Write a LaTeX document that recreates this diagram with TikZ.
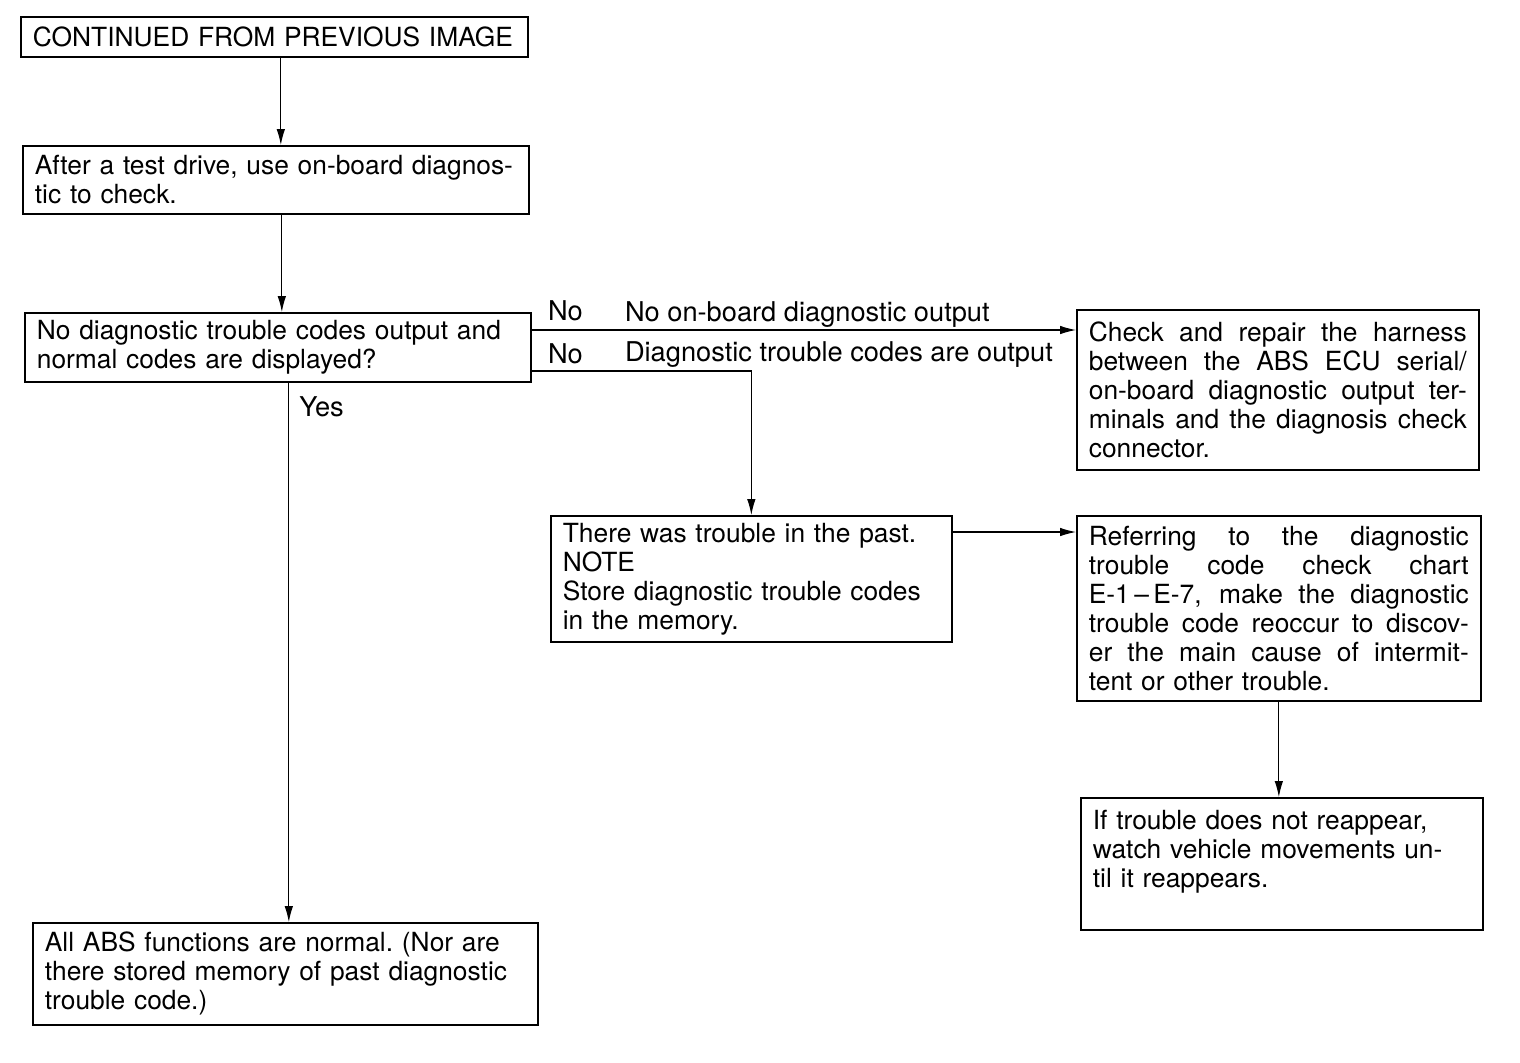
\documentclass[tikz,border=0pt]{standalone}
\usepackage{fontspec}
\setmainfont{TeX Gyre Heros}
\usetikzlibrary{arrows.meta, positioning, calc}

% one justified line inside a box
\newcommand{\jline}[1]{\leavevmode\hbox to \hsize{\spaceskip=0.28em plus 1fil\relax #1}}

\begin{document}
\begin{tikzpicture} [
    x=0.02cm, y=-0.02cm,
    box/.style={rectangle, draw, line width=1pt, anchor=north west, align=left, inner xsep=0.24cm, inner ysep=0.1cm, font=\fontsize{15}{16.5}\selectfont},
    line/.style={draw, -{Latex[length=0.32cm, width=0.17cm]}, line width=0.6pt},
    lbl/.style={font=\fontsize{15.5}{16.5}\selectfont, inner sep=0pt, anchor=base west}
]
    \useasboundingbox (0,0) rectangle (1520,1062);

    % Nodes
    \node[box, text width=9.66cm, minimum height=0.8cm] (cont) at (20,16) {CONTINUED FROM PREVIOUS IMAGE};

    \node[box, text width=9.64cm, minimum height=1.36cm] (drive) at (22,145) {After a test drive, use on-board diagnos-\\tic to check.};

    \node[box, text width=9.64cm, minimum height=1.38cm] (query) at (24,312) {No diagnostic trouble codes output and\\normal codes are displayed?};

    \node[box, text width=9.62cm, minimum height=2.04cm] (normal) at (32,922) {All ABS functions are normal.\ (Nor are\\there stored memory of past diagnostic\\trouble code.)};

    \node[box, text width=7.56cm, minimum height=3.2cm] (harness) at (1076,309) {\jline{Check and repair the harness}\\\jline{between the ABS ECU serial/}\\\jline{on-board diagnostic output ter-}\\\jline{minals and the diagnosis check}\\connector.};

    \node[box, text width=7.54cm, minimum height=2.52cm] (past) at (550,515) {There was trouble in the past.\\NOTE\\Store diagnostic trouble codes\\in the memory.};

    \node[box, text width=7.6cm, minimum height=3.7cm] (refer) at (1076,515) {\jline{Referring to the diagnostic}\\\jline{trouble code check chart}\\\jline{E-1\,--\,E-7, make the diagnostic}\\\jline{trouble code reoccur to discov-}\\\jline{er the main cause of intermit-}\\tent or other trouble.};

    \node[box, text width=7.56cm, minimum height=2.64cm, text depth=1.77cm] (watch) at (1080,797) {If trouble does not reappear,\\watch vehicle movements un-\\til it reappears.};

    % Arrows with labels
    \path [line] ($(cont.south)+(6.5,0)$) coordinate (c1) -- (c1 |- drive.north);
    \path [line] ($(drive.south)+(6,0)$) coordinate (c2) -- (c2 |- query.north);
    \path [line] ($(query.south)+(11,0)$) coordinate (c3) -- node[lbl, anchor=west, pos=0.044, xshift=0.2cm] (yes) {Yes} (c3 |- normal.north);

    \coordinate (n1) at ($(query.north east)+(0,18)$);
    \coordinate (n2) at ($(query.north east)+(0,59)$);
    \path [line] (n1) -- (n1 -| harness.west);
    \path [line] (n2) -| (past.north);
    \node[lbl] (no1) at ($(n1)+(16,-10)$) {No};
    \node[lbl] (out1) at ($(n1)+(93,-9)$) {No on-board diagnostic output};
    \node[lbl] (no2) at ($(n2)+(16,-8)$) {No};
    \node[lbl] (out2) at ($(n2)+(93,-10)$) {Diagnostic trouble codes are output};

    \path [line] ($(past.north east)+(0,17)$) coordinate (p1) -- (p1 -| refer.west);
    \path [line] (refer.south) -- (refer.south |- watch.north);

\end{tikzpicture}
\end{document}
